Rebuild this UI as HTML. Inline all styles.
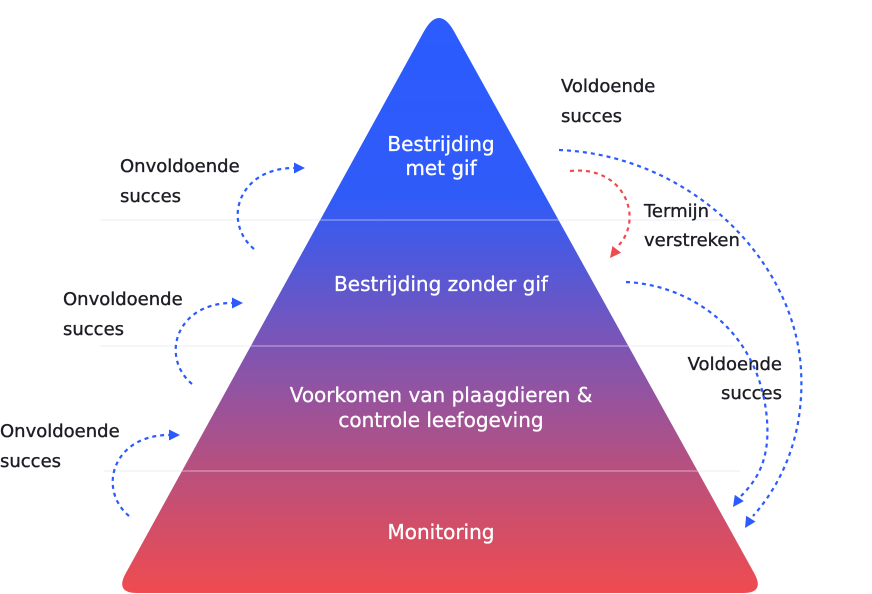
<!DOCTYPE html>
<html>
<head>
<meta charset="utf-8">
<style>
  html, body { margin: 0; padding: 0; background: #ffffff; }
  body { width: 872px; height: 594px; overflow: hidden; }
  svg { display: block; }
  .lbl { font-family: "DejaVu Sans", "Liberation Sans", sans-serif; font-size: 18px; fill: #1c1c24; stroke: #1c1c24; stroke-width: 0.35; }
  .in { font-family: "DejaVu Sans", "Liberation Sans", sans-serif; font-size: 20px; fill: #ffffff; stroke: #ffffff; stroke-width: 0.3; }
</style>
</head>
<body>
<svg width="872" height="594" viewBox="0 0 872 594" xmlns="http://www.w3.org/2000/svg">
  <defs>
    <linearGradient id="g" x1="0" y1="0" x2="0" y2="594" gradientUnits="userSpaceOnUse">
      <stop offset="0" stop-color="#2b5bff"/>
      <stop offset="0.33" stop-color="#2f5bf8"/>
      <stop offset="0.58" stop-color="#7c55b5"/>
      <stop offset="0.79" stop-color="#b8507e"/>
      <stop offset="1" stop-color="#f04b4f"/>
    </linearGradient>
    <clipPath id="tri">
      <path d="M137,593 L743,593 Q765,593 754.4,573.5 L454.4,32 Q439,4 423.6,32 L125.6,573.5 Q115,593 137,593 Z"/>
    </clipPath>
  </defs>

  <!-- faint outside guide lines -->
  <line x1="100" y1="220" x2="735" y2="220" stroke="#f2f3f7" stroke-width="1.5"/>
  <line x1="100" y1="346" x2="735" y2="346" stroke="#f2f3f7" stroke-width="1.5"/>
  <line x1="104" y1="471" x2="740" y2="471" stroke="#f2f3f7" stroke-width="1.5"/>

  <!-- pyramid -->
  <path d="M137,593 L743,593 Q765,593 754.4,573.5 L454.4,32 Q439,4 423.6,32 L125.6,573.5 Q115,593 137,593 Z" fill="url(#g)"/>
  <g clip-path="url(#tri)" stroke="#ffffff" stroke-opacity="0.35" stroke-width="1.6">
    <line x1="100" y1="220" x2="780" y2="220"/>
    <line x1="100" y1="346" x2="780" y2="346"/>
    <line x1="100" y1="471" x2="780" y2="471"/>
  </g>

  <!-- inner text -->
  <text class="in" x="441" y="151" text-anchor="middle">Bestrijding</text>
  <text class="in" x="441" y="175" text-anchor="middle">met gif</text>
  <text class="in" x="441" y="291" text-anchor="middle">Bestrijding zonder gif</text>
  <text class="in" x="441" y="402" text-anchor="middle">Voorkomen van plaagdieren &amp;</text>
  <text class="in" x="441" y="427" text-anchor="middle">controle leefogeving</text>
  <text class="in" x="441" y="539" text-anchor="middle">Monitoring</text>

  <!-- left labels -->
  <text class="lbl" x="120" y="172">Onvoldoende</text>
  <text class="lbl" x="120" y="202">succes</text>
  <text class="lbl" x="63" y="305">Onvoldoende</text>
  <text class="lbl" x="63" y="335">succes</text>
  <text class="lbl" x="0" y="437">Onvoldoende</text>
  <text class="lbl" x="0" y="467">succes</text>

  <!-- right labels -->
  <text class="lbl" x="561" y="92">Voldoende</text>
  <text class="lbl" x="561" y="122">succes</text>
  <text class="lbl" x="644" y="217">Termijn</text>
  <text class="lbl" x="644" y="246">verstreken</text>
  <text class="lbl" x="782" y="370" text-anchor="end">Voldoende</text>
  <text class="lbl" x="782" y="399" text-anchor="end">succes</text>

  <!-- left arrows (same shape, translated) -->
  <g>
    <path d="M254,249 C222,222 238,168 294,168" fill="none" stroke="#2b5bff" stroke-width="2.2" stroke-dasharray="4 4"/>
    <polygon points="305,168 294,162.5 294,173.5" fill="#2b5bff"/>
  </g>
  <g transform="translate(-62,135)">
    <path d="M254,249 C222,222 238,168 294,168" fill="none" stroke="#2b5bff" stroke-width="2.2" stroke-dasharray="4 4"/>
    <polygon points="305,168 294,162.5 294,173.5" fill="#2b5bff"/>
  </g>
  <g transform="translate(-125,267)">
    <path d="M254,249 C222,222 238,168 294,168" fill="none" stroke="#2b5bff" stroke-width="2.2" stroke-dasharray="4 4"/>
    <polygon points="305,168 294,162.5 294,173.5" fill="#2b5bff"/>
  </g>

  <!-- red arrow -->
  <path d="M570,171 C625,165 645,220 617,247" fill="none" stroke="#ef4a50" stroke-width="2.2" stroke-dasharray="4 4"/>
  <polygon points="0,0 -11,-5.5 -11,5.5" fill="#ef4a50" transform="translate(610,258) rotate(128)"/>

  <!-- big blue arrow -->
  <path d="M559,150 C690,155 795,260 801,370 C805,440 778,488 753,516" fill="none" stroke="#2b5bff" stroke-width="2.2" stroke-dasharray="4 4"/>
  <polygon points="0,0 -11,-5.5 -11,5.5" fill="#2b5bff" transform="translate(745,528) rotate(122)"/>

  <!-- middle blue arrow -->
  <path d="M626,282 C690,285 760,330 767,420 C770,460 757,480 741,496" fill="none" stroke="#2b5bff" stroke-width="2.2" stroke-dasharray="4 4"/>
  <polygon points="0,0 -11,-5.5 -11,5.5" fill="#2b5bff" transform="translate(733,507) rotate(125)"/>
</svg>
</body>
</html>
